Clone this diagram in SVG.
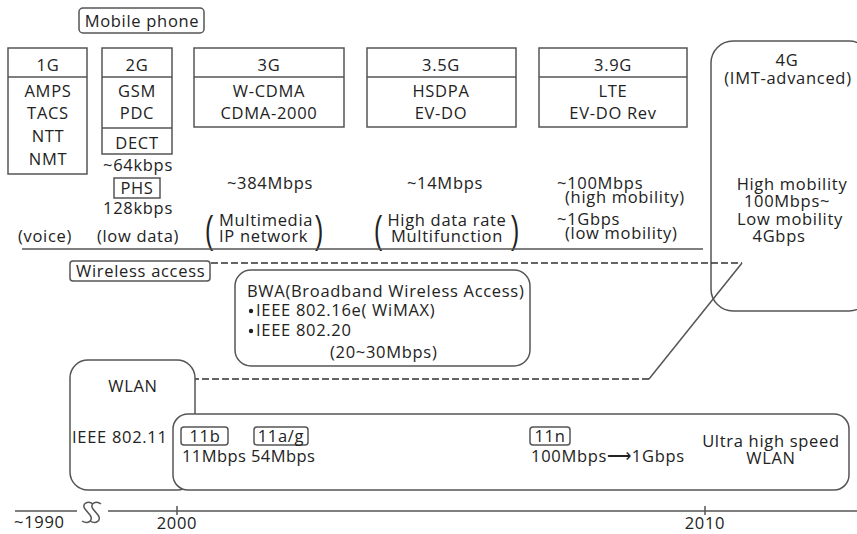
<svg xmlns="http://www.w3.org/2000/svg" width="857" height="534" viewBox="0 0 857 534">
<style>
text{font-family:"Open Sans","Liberation Sans",sans-serif;font-size:16.5px;letter-spacing:0.7px;fill:#222}
.c{text-anchor:middle}
.box{fill:#fff;stroke:#555;stroke-width:1.5}
.ln{fill:none;stroke:#555;stroke-width:1.5}
.dash{fill:none;stroke:#333;stroke-width:1.5;stroke-dasharray:7 3}
.br{font-family:"Liberation Sans",sans-serif;font-size:38px;letter-spacing:0}
</style>
<rect width="857" height="534" fill="#fff"/>

<g id="mobile-phone">
<rect class="box" x="79" y="8" width="125" height="25" rx="4"/>
<text class="c" x="142" y="27">Mobile phone</text>
</g>

<g id="g1">
<rect class="box" x="8" y="48" width="79" height="126"/>
<line class="ln" x1="8" y1="77" x2="87" y2="77"/>
<text class="c" x="48" y="71">1G</text>
<text class="c" x="48" y="97">AMPS</text>
<text class="c" x="48" y="119">TACS</text>
<text class="c" x="48" y="142">NTT</text>
<text class="c" x="48" y="165">NMT</text>
<text class="c" x="45" y="242">(voice)</text>
</g>

<g id="g2">
<rect class="box" x="102" y="48" width="70" height="106"/>
<line class="ln" x1="102" y1="77" x2="172" y2="77"/>
<line class="ln" x1="102" y1="128" x2="172" y2="128"/>
<text class="c" x="137" y="71">2G</text>
<text class="c" x="137" y="97">GSM</text>
<text class="c" x="137" y="119">PDC</text>
<text class="c" x="137" y="149">DECT</text>
<text class="c" x="138" y="171">~64kbps</text>
<rect class="box" x="114" y="178" width="46" height="20" stroke-width="1.2"/>
<text class="c" x="137" y="194">PHS</text>
<text class="c" x="138" y="214">128kbps</text>
<text class="c" x="138" y="242">(low data)</text>
</g>

<g id="g3">
<rect class="box" x="194" y="48" width="150" height="79"/>
<line class="ln" x1="194" y1="77" x2="344" y2="77"/>
<text class="c" x="269" y="71">3G</text>
<text class="c" x="269" y="97">W-CDMA</text>
<text class="c" x="269" y="119">CDMA-2000</text>
<text class="c" x="270" y="189">~384Mbps</text>
<text class="br" transform="translate(205,243) scale(0.65,1)">(</text>
<text x="219" y="226">Multimedia</text>
<text x="219" y="242">IP network</text>
<text class="br" transform="translate(315,243) scale(0.65,1)">)</text>
</g>

<g id="g35">
<rect class="box" x="367" y="48" width="149" height="79"/>
<line class="ln" x1="367" y1="77" x2="516" y2="77"/>
<text class="c" x="441" y="71">3.5G</text>
<text class="c" x="441" y="97">HSDPA</text>
<text class="c" x="441" y="119">EV-DO</text>
<text class="c" x="445" y="189">~14Mbps</text>
<text class="br" transform="translate(374,243) scale(0.65,1)">(</text>
<text class="c" x="447" y="226">High data rate</text>
<text class="c" x="447" y="242">Multifunction</text>
<text class="br" transform="translate(511,243) scale(0.65,1)">)</text>
</g>

<g id="g39">
<rect class="box" x="539" y="48" width="148" height="79"/>
<line class="ln" x1="539" y1="77" x2="687" y2="77"/>
<text class="c" x="613" y="71">3.9G</text>
<text class="c" x="613" y="97">LTE</text>
<text class="c" x="613" y="119">EV-DO Rev</text>
<text x="557" y="189">~100Mbps</text>
<text x="565" y="203">(high mobility)</text>
<text x="557" y="225">~1Gbps</text>
<text x="565" y="239">(low mobility)</text>
</g>

<g id="separator">
<line class="ln" x1="22" y1="249" x2="703" y2="249"/>
</g>

<g id="g4">
<rect class="box" x="711" y="41" width="160" height="270" rx="22"/>
<text class="c" x="787" y="66">4G</text>
<text class="c" x="788" y="84">(IMT-advanced)</text>
<text class="c" x="792" y="190">High mobility</text>
<text class="c" x="787" y="207">100Mbps~</text>
<text class="c" x="790" y="225">Low mobility</text>
<text class="c" x="779" y="242">4Gbps</text>
</g>

<g id="wireless-access">
<rect class="box" x="70" y="261" width="140" height="20" rx="3"/>
<text x="76" y="277">Wireless access</text>
</g>

<g id="connectors">
<path class="dash" d="M211,263 H742"/>
<path class="ln" d="M742,263 L649,379" stroke="#333"/>
<path class="dash" d="M649,379 H195"/>
</g>

<g id="bwa">
<rect class="box" x="235" y="270" width="295" height="96" rx="16"/>
<text x="247" y="297">BWA(Broadband Wireless Access)</text>
<circle cx="251" cy="311" r="2.2" fill="#222"/>
<text x="256" y="316">IEEE 802.16e( WiMAX)</text>
<circle cx="251" cy="331" r="2.2" fill="#222"/>
<text x="256" y="336">IEEE 802.20</text>
<text x="330" y="358">(20~30Mbps)</text>
</g>

<g id="wlan">
<rect class="box" x="70" y="360" width="125" height="130" rx="18"/>
<text class="c" x="133" y="392">WLAN</text>
<text x="72" y="443">IEEE 802.11</text>
</g>

<g id="wlan-std">
<rect class="box" x="173" y="414" width="676" height="76" rx="15"/>
<rect class="box" x="181" y="427" width="47" height="18" rx="3" stroke-width="1.2"/>
<text class="c" x="205" y="442">11b</text>
<rect class="box" x="254" y="427" width="54" height="18" rx="3" stroke-width="1.2"/>
<text class="c" x="281" y="442">11a/g</text>
<text x="182" y="462" style="letter-spacing:0.4px">11Mbps</text>
<text x="251" y="462" style="letter-spacing:0.4px">54Mbps</text>
<rect class="box" x="530" y="427" width="40" height="18" rx="3" stroke-width="1.2"/>
<text class="c" x="550" y="442">11n</text>
<text x="531" y="462">100Mbps⟶1Gbps</text>
<text class="c" x="771" y="447">Ultra high speed</text>
<text class="c" x="771" y="464">WLAN</text>
</g>

<g id="timeline">
<line class="ln" x1="15" y1="511" x2="77" y2="511"/>
<path class="ln" d="M93,504 C88,500 81,504 85,509 L90,515 C94,520 88,525 82,521"/>
<path class="ln" d="M101,504 C96,500 89,504 93,509 L98,515 C102,520 96,525 90,521"/>
<line class="ln" x1="108" y1="511" x2="857" y2="511"/>
<line class="ln" x1="177" y1="506" x2="177" y2="515"/>
<line class="ln" x1="705" y1="506" x2="705" y2="515"/>
<text x="14" y="528">~1990</text>
<text class="c" x="177" y="529">2000</text>
<text class="c" x="705" y="529">2010</text>
</g>
</svg>
